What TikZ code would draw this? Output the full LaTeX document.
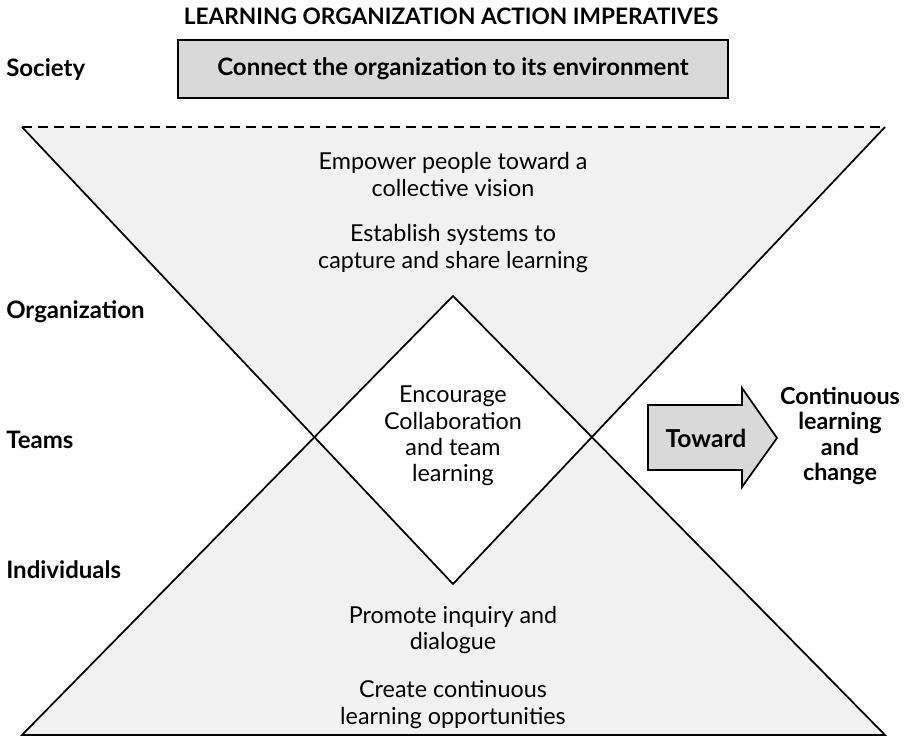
\documentclass[tikz,border=0pt]{standalone}
\usepackage{fontspec}
\setmainfont{Lato}
\definecolor{trigray}{gray}{0.945}
\definecolor{boxgray}{gray}{0.85}
\tikzset{
  level/.style={anchor=west,inner sep=0pt,font=\bfseries\fontsize{18}{20}\selectfont},
  action/.style={align=center,font=\fontsize{17.5}{19.8}\selectfont},
  edge/.style={line width=1.3pt,line join=miter}
}
\begin{document}
\begin{tikzpicture}[x=0.75pt,y=-0.75pt]
\useasboundingbox (0,0) rectangle (911,755);
\node[font=\bfseries\fontsize{17}{20}\selectfont] (title) at (451,16) {LEARNING ORGANIZATION ACTION IMPERATIVES};
\node[draw,edge,fill=boxgray,minimum width=412.5pt,minimum height=43.5pt,
  font=\bfseries\fontsize{18}{20}\selectfont] (connect) at (453,69) {Connect the organization to its environment};
\node[level] (society) at (6,70) {Society};
\node[level] (org) at (6,312) {Organization};
\node[level] (teams) at (6,440) {Teams};
\node[level] (indiv) at (6,570) {Individuals};
\fill[trigray] (22,127) -- (885,127) -- (453,584) -- cycle;
\fill[trigray] (22,735) -- (885,735) -- (453,296) -- cycle;
\begin{scope}
  \clip (22,127) -- (885,127) -- (453,584) -- cycle;
  \fill[white] (22,735) -- (885,735) -- (453,296) -- cycle;
\end{scope}
\draw[edge,dash pattern=on 7.5pt off 4.5pt] (22,127) -- (885,127);
\draw[edge] (22,127) -- (453,584) -- (885,127);
\draw[edge] (453,296) -- (22,735) -- (885,735) -- cycle;
\node[action] (empower) at (453,174.5) {Empower people toward a\\collective vision};
\node[action] (establish) at (453,248.5) {Establish systems to\\capture and share learning};
\node[action] (encourage) at (453,436) {Encourage\\Collaboration\\and team\\learning};
\node[action] (promote) at (453,630) {Promote inquiry and\\dialogue};
\node[action] (create) at (453,704.5) {Create continuous\\learning opportunities};
\draw[edge,fill=boxgray] (648,405) -- (742,405) -- (742,388) -- (777,438) --
  (742,487) -- (742,470) -- (648,470) -- cycle;
\node[font=\bfseries\fontsize{18.5}{20}\selectfont] (toward) at (706,438) {Toward};
\node[align=center,font=\bfseries\fontsize{17.5}{19}\selectfont] (goal) at (840,436) {Continuous\\learning\\and\\change};
\end{tikzpicture}
\end{document}
